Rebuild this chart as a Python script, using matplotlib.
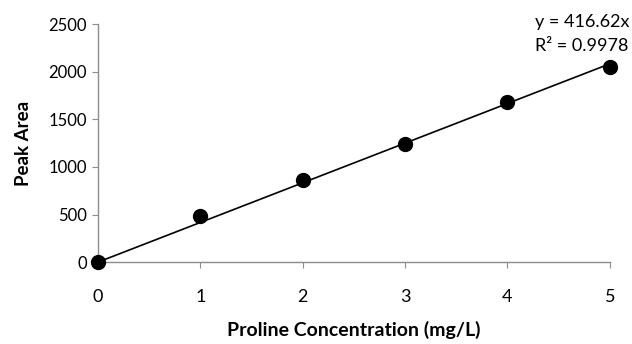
import numpy as np
import matplotlib.pyplot as plt

# calibration data
conc = [0, 1, 2, 3, 4, 5]
peak_area = [5, 485, 862, 1245, 1680, 2050]
slope = 416.62
r2 = 0.9978

x_ticks = [0, 1, 2, 3, 4, 5]
y_ticks = [0, 500, 1000, 1500, 2000, 2500]

plt.rcParams['font.family'] = ['Lato', 'DejaVu Sans']

fig = plt.figure(figsize=(6.32, 3.44), dpi=100)
ax = fig.add_axes([0.155, 0.238, 0.81, 0.692])

fit_x = np.array([conc[0], conc[-1]])
ax.plot(fit_x, slope * fit_x, color='black', linewidth=1.2, zorder=2)
ax.plot(conc, peak_area, linestyle='none', marker='D', markersize=6,
        color='#4a7ebb', zorder=3)
ax.plot(conc, peak_area, linestyle='none', marker='o', markersize=10,
        color='black', zorder=4, clip_on=False)

ax.set_xlim(0, 5)
ax.set_ylim(0, 2500)
ax.set_xticks(x_ticks)
ax.set_yticks(y_ticks)

for side in ['top', 'right']:
    ax.spines[side].set_visible(False)
for side in ['left', 'bottom']:
    ax.spines[side].set_color('#8c8c8c')
    ax.spines[side].set_linewidth(1.0)

ax.tick_params(axis='y', direction='out', length=4, color='#8c8c8c',
               labelsize=12, pad=4)
ax.tick_params(axis='x', direction='out', length=4, color='#8c8c8c',
               labelsize=13, pad=15)

ax.set_xlabel('Proline Concentration (mg/L)', fontsize=14,
              fontweight='bold', labelpad=12)
ax.set_ylabel('Peak Area', fontsize=13.5, fontweight='bold', labelpad=12)

fig.text(0.846, 0.935, f'y = {slope}x', fontsize=13, ha='left', va='center')
fig.text(0.846, 0.866, f'R\u00b2 = {r2}', fontsize=13, ha='left', va='center')

fig.savefig('out.png', dpi=100)
